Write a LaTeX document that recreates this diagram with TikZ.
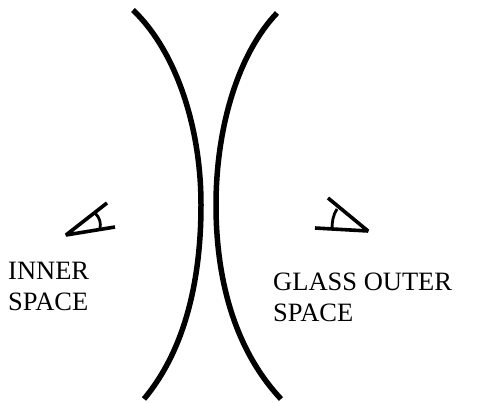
\documentclass[tikz,border=0pt]{standalone}
\usepackage{fontspec}
\setmainfont{Liberation Serif}
\tikzset{
  lens/.style={line width=5.5pt, line join=round},
  eye/.style={line width=3.6pt, line join=bevel},
  arcmark/.style={line width=2.8pt},
  caption/.style={font=\fontsize{26.5}{31}\selectfont, align=left, anchor=north west, inner sep=0pt}
}
\begin{document}
\begin{tikzpicture}[x=1pt,y=-1pt]
\useasboundingbox (0,0) rectangle (479,403);
\coordinate (ltop) at (133,10);
\coordinate (lbot) at (144,399);
\coordinate (rtop) at (277,13);
\coordinate (rbot) at (281,399);
% glass surfaces
\draw[lens] (ltop) .. controls (175,50) and (201,125) .. (201,205) .. controls (201,280) and (185,350) .. (lbot);
\draw[lens] (rtop) .. controls (237,55) and (216,130) .. (216,205) .. controls (216,280) and (235,350) .. (rbot);
% left eye
\coordinate (la) at (66,235);
\coordinate (lb) at (115,227);
\coordinate (lc) at (107,203);
\draw[eye] (lb) -- (la) -- (lc);
\draw[arcmark] (95,213) .. controls (100,218) and (101,223) .. (100,228);
% right eye
\coordinate (ra) at (368,231);
\coordinate (rb) at (315,228);
\coordinate (rc) at (328,198);
\draw[eye] (rb) -- (ra) -- (rc);
\draw[arcmark] (337,209) .. controls (333,215) and (332,222) .. (332,229);
\node[caption] (inner) at (8,262) {INNER\\SPACE};
\node[caption] (outer) at (273,273) {GLASS OUTER\\SPACE};
\end{tikzpicture}
\end{document}
